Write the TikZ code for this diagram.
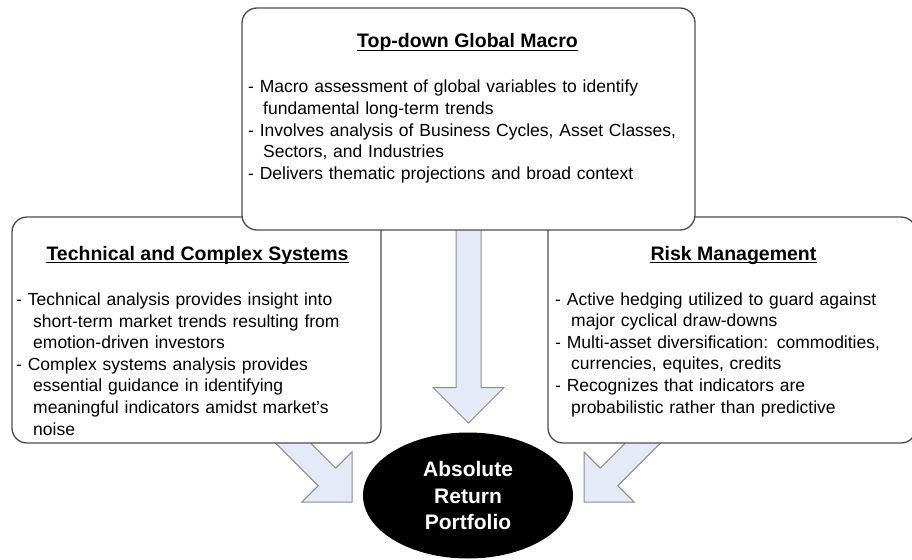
\documentclass[tikz,border=0pt]{standalone}
\usepackage{fontspec}
\setmainfont{Liberation Sans}
\usetikzlibrary{shapes.geometric,calc}
\definecolor{arrowfill}{HTML}{E4EAF6}
\definecolor{arrowline}{HTML}{8C8C8C}
\definecolor{boxline}{HTML}{4D4D4D}
\newcommand{\blockarrow}[2]{%
  \path ($(#2)!35.4pt!(#1)$) coordinate (hb);
  \draw[blockarrow] ($(#1)!12.5pt!90:(#2)$) -- ($(hb)!12.5pt!90:(#2)$) -- ($(hb)!35.4pt!90:(#2)$) -- (#2) -- ($(hb)!35.4pt!-90:(#2)$) -- ($(hb)!12.5pt!-90:(#2)$) -- ($(#1)!12.5pt!-90:(#2)$) -- cycle;}
\begin{document}
\begin{tikzpicture}[x=1pt,y=-1pt,
  box/.style={draw=boxline, line width=1.3pt, fill=white, rounded corners=15pt, inner sep=0},
  blockarrow/.style={draw=arrowline, line width=1pt, fill=arrowfill, line join=miter},
  title/.style={font=\fontsize{19.5}{23}\selectfont\bfseries, anchor=base, inner sep=0},
  body/.style={font=\fontsize{17.5}{21.6}\selectfont, anchor=base west, inner sep=0, text width=520pt, align=left},
  uline/.style={line width=1.2pt}]
\useasboundingbox (0,0) rectangle (912,559);
% arrow end points
\coordinate (cs) at (468.5,215); \coordinate (ct) at (468.5,423);
\coordinate (ls) at (275,425);   \coordinate (lt) at (352,502);
\coordinate (rs) at (661,425);   \coordinate (rt) at (584,502);
\blockarrow{cs}{ct}
\blockarrow{ls}{lt}
\blockarrow{rs}{rt}
% side boxes
\node[box, minimum width=369pt, minimum height=226pt] (tech) at (196.5,330) {};
\node[box, minimum width=368pt, minimum height=226pt] (risk) at (732,330) {};
\node[title] (techT) at (197.5,260) {Technical and Complex Systems};
\draw[uline] ([yshift=-2.8pt]techT.base west) -- ([yshift=-2.8pt]techT.base east);
\node[body] (techB) at (16,305.5) {- Technical analysis provides insight into\\
\hspace*{17pt}short-term market trends resulting from\\
\hspace*{17pt}emotion-driven investors\\
- Complex systems analysis provides\\
\hspace*{17pt}essential guidance in identifying\\
\hspace*{17pt}meaningful indicators amidst market’s\\
\hspace*{17pt}noise};
\node[title] (riskT) at (733.5,260) {Risk Management};
\draw[uline] ([yshift=-2.8pt]riskT.base west) -- ([yshift=-2.8pt]riskT.base east);
\node[body] (riskB) at (555,305) {- Active hedging utilized to guard against\\
\hspace*{16pt}major cyclical draw-downs\\
- Multi-asset diversification: commodities,\\
\hspace*{16pt}currencies, equites, credits\\
- Recognizes that indicators are\\
\hspace*{16pt}probabilistic rather than predictive};
% top box
\node[box, minimum width=453pt, minimum height=222pt] (macro) at (468.5,119) {};
\node[title] (macroT) at (467.5,48) {Top-down Global Macro};
\draw[uline] ([yshift=-2.8pt]macroT.base west) -- ([yshift=-2.8pt]macroT.base east);
\node[body] (macroB) at (248,93) {- Macro assessment of global variables to identify\\
\hspace*{15pt}fundamental long-term trends\\
- Involves analysis of Business Cycles, Asset Classes,\\
\hspace*{15pt}Sectors, and Industries\\
- Delivers thematic projections and broad context};
% portfolio
\node[ellipse, fill=black, minimum width=210pt, minimum height=126pt, inner sep=0, text=white,
  font=\fontsize{21}{26.5}\selectfont\bfseries, align=center] (port) at (468,495.5) {Absolute\\Return\\Portfolio};
\end{tikzpicture}
\end{document}
